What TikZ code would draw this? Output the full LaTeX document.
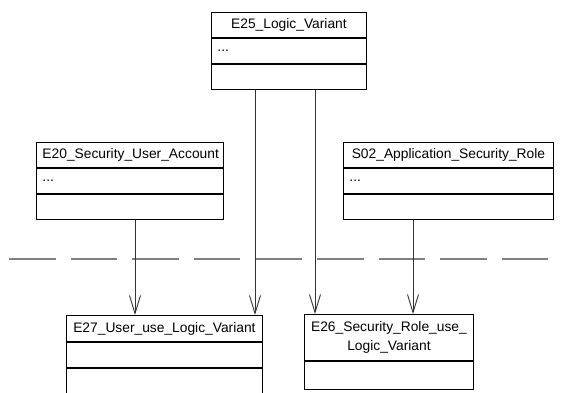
\documentclass[tikz,border=0pt]{standalone}
\usepackage{fontspec}
\setmainfont{Liberation Sans}
\usetikzlibrary{arrows.meta,positioning}
\newcommand{\umlfont}{\fontsize{13.8}{16}\selectfont}
\tikzset{
  classhead/.style={draw, line width=0.9pt, text width=#1, inner xsep=6pt, inner ysep=0pt, minimum height=25pt, align=center, anchor=north west, font=\umlfont},
  classrow/.style={draw, line width=0.9pt, text width=#1, inner xsep=6pt, inner ysep=0pt, minimum height=25pt, align=left, font=\umlfont},
  assoc/.style={draw=black!80, line width=0.9pt, -{Straight Barb[length=18pt,width=11pt,line width=0.9pt]}},
}

\begin{document}
\begin{tikzpicture}[x=1pt, y=-1pt]
  \clip (0,0) rectangle (562,392);

  %% Classes, top
  \node[classhead=143pt] (e25) at (211,12) {E25\_Logic\_Variant};
  \node[classrow=143pt, below=0pt of e25] (e25attr) {...};
  \node[classrow=143pt, below=0pt of e25attr] (e25ops) {};

  \node[classhead=175pt] (e20) at (36,142) {E20\_Security\_User\_Account};
  \node[classrow=175pt, below=0pt of e20] (e20attr) {...};
  \node[classrow=175pt, below=0pt of e20attr] (e20ops) {};

  \node[classhead=198pt] (s02) at (343,142) {S02\_Application\_Security\_Role};
  \node[classrow=198pt, below=0pt of s02] (s02attr) {...};
  \node[classrow=198pt, below=0pt of s02attr] (s02ops) {};

  %% Separator
  \draw[black!50, line width=1.3pt, dash pattern=on 46.6pt off 15pt] (9,259) -- (548,259);

  %% Classes, bottom
  \node[classhead=184pt, minimum height=26pt] (e27) at (66,315) {E27\_User\_use\_Logic\_Variant};
  \node[classrow=184pt, below=0pt of e27] (e27attr) {};
  \node[classrow=184pt, below=0pt of e27attr, minimum height=30pt] (e27ops) {};

  \node[classhead=157pt, minimum height=46pt] (e26) at (304,314) {E26\_Security\_Role\_use\_\\[3pt]Logic\_Variant};
  \node[classrow=157pt, below=0pt of e26, minimum height=28pt] (e26attr) {};

  %% Associations
  \draw[assoc] ([xshift=44pt]e25ops.south west) coordinate (e25a) -- (e25a |- e27.north);
  \draw[assoc] ([xshift=104pt]e25ops.south west) coordinate (e25b) -- (e25b |- e26.north);
  \draw[assoc] ([xshift=99pt]e20ops.south west) coordinate (e20a) -- (e20a |- e27.north);
  \draw[assoc] ([xshift=70pt]s02ops.south west) coordinate (s02a) -- (s02a |- e26.north);
\end{tikzpicture}
\end{document}
